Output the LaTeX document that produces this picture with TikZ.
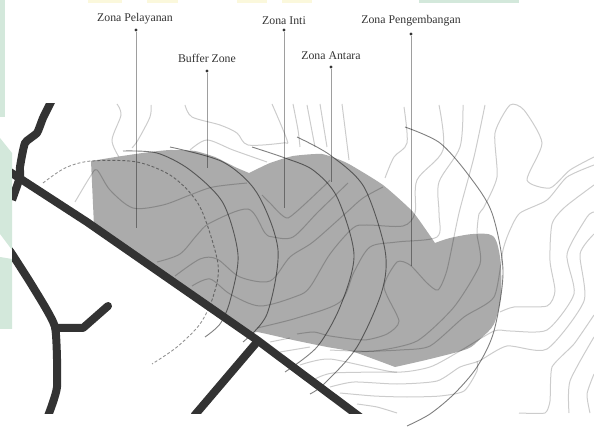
\documentclass[tikz,border=0pt]{standalone}
\usepackage{fontspec}
\setmainfont{Liberation Serif}
\definecolor{wmgreen}{HTML}{D3E8DB}
\definecolor{wmyellow}{HTML}{FBF8DC}
\definecolor{sitegray}{HTML}{ABABAB}
\definecolor{roadgray}{HTML}{333333}

\begin{document}
\begin{tikzpicture}[x=1pt,y=-1pt,
  contour/.style={black,opacity=0.2,line width=1pt},
  zonearc/.style={black,opacity=0.5,line width=0.9pt},
  road/.style={roadgray,line width=8pt,line join=round},
  pinline/.style={black,opacity=0.38,line width=0.9pt},
  zonepin/.style={circle,fill=black!80,inner sep=0pt,minimum size=3.2pt},
  zonelabel/.style={font=\fontsize{11.8}{12}\selectfont,text=black!80,inner sep=0pt}]
\useasboundingbox (0,0) rectangle (594,427);

\fill[wmgreen] (0,0) rectangle (5,117);
\fill[wmgreen] (0,138) -- (12,153) -- (12,250) -- (0,234) -- cycle;
\fill[wmgreen] (0,257) -- (12,259) -- (12,329) -- (0,329) -- cycle;
\fill[wmyellow] (88,0) rectangle (122,3);
\fill[wmyellow] (147,0) rectangle (178,3);
\fill[wmyellow] (237,0) rectangle (267,3);
\fill[wmyellow] (282,0) rectangle (312,3);
\fill[wmgreen] (419,0) rectangle (519,3);

\fill[sitegray] plot[smooth,tension=0.3] coordinates {(91,161) (122,156) (150,152) (170,150) (195,151) (215,157) (235,167) (249,173)}
  -- plot[smooth,tension=0.3] coordinates {(249,173) (270,163) (293,156) (322,154) (347,163) (383,185) (413,212) (435,243)}
  -- plot[smooth,tension=0.5] coordinates {(435,243) (450,238) (473,234) (493,236) (500,257) (501,294) (494,324) (480,339) (467,349) (430,359) (395,367)}
  -- plot[smooth,tension=0.3] coordinates {(395,367) (354,352) (327,347) (293,340) (257,332) (250,336)}
  -- (94,226) -- cycle;

\begin{scope}
\clip (12,104) rectangle (594,413);
\draw[contour] plot[smooth] coordinates {(117,104) (121,115) (112,140) (119,157)};
\draw[contour] plot[smooth] coordinates {(151,105) (150,117) (138,140) (132,148)};
\draw[contour] plot[smooth] coordinates {(185,105) (192,117) (220,125) (237,133) (248,145) (283,143) (287,140) (272,104)};
\draw[contour] plot[smooth] coordinates {(75,202) (90,177) (97,170) (110,190) (133,208) (163,205) (190,195) (213,187) (247,183)};
\draw[contour] plot[smooth] coordinates {(190,150) (207,140) (233,150) (267,162)};
\draw[contour] plot[smooth] coordinates {(157,262) (180,254) (197,235) (210,223) (248,209) (265,233) (273,237) (293,237) (318,212) (348,183)};
\draw[contour] plot[smooth,tension=0.3] coordinates {(262,195) (270,203) (288,218) (323,187) (330,180)};
\draw[contour] plot[smooth] coordinates {(175,276) (200,259) (217,259) (240,277) (270,281) (290,257) (313,242) (347,212) (363,198) (383,187)};
\draw[contour] plot[smooth] coordinates {(192,286) (210,279) (230,294) (260,306) (297,296) (310,287) (330,254) (353,228) (367,225) (403,226) (415,213) (417,180) (443,150) (439,105)};
\draw[contour] plot[smooth] coordinates {(257,328) (297,318) (340,302) (354,272) (370,247) (397,242) (437,237) (439,213) (439,182) (460,147) (463,105)};
\draw[contour] plot[smooth,tension=0.4] coordinates {(297,334) (314,332) (330,336) (364,340) (387,334) (399,321) (384,287) (397,262) (410,265) (427,283) (438,290) (447,270) (459,213) (474,157) (485,105)};
\draw[contour] plot[smooth,tension=0.4] coordinates {(330,350) (374,351) (417,341) (454,307) (480,264) (477,234) (479,214) (484,207) (497,177) (495,133) (510,105) (524,110) (542,143) (527,180) (550,188) (570,170) (594,157)};
\draw[contour] plot[smooth,tension=0.4] coordinates {(354,352) (400,350) (430,346) (464,317) (494,297) (503,250) (510,230) (520,213) (547,200) (567,177) (594,165)};
\draw[contour] plot[smooth] coordinates {(293,104) (298,130) (300,147)};
\draw[contour] plot[smooth] coordinates {(307,105) (315,147)};
\draw[contour] plot[smooth] coordinates {(320,104) (327,147)};
\draw[contour] plot[smooth] coordinates {(342,104) (349,160)};
\draw[contour] plot[smooth] coordinates {(404,107) (407,143) (394,157) (385,178)};
\draw[contour] plot[smooth,tension=0.4] coordinates {(500,312) (514,307) (547,306) (555,291) (550,261) (552,224) (565,207) (594,185)};
\draw[contour] plot[smooth,tension=0.4] coordinates {(300,365) (330,359) (394,372) (430,367) (460,351) (494,331) (510,331) (547,330) (574,294) (567,254) (587,217) (594,212)};
\draw[contour] plot[smooth,tension=0.4] coordinates {(313,380) (333,373) (397,372)};
\draw[contour] plot[smooth,tension=0.4] coordinates {(330,387) (354,382) (397,384) (437,381) (460,367) (479,361) (507,346) (547,349) (584,301) (580,254) (594,234)};
\draw[contour] plot[smooth,tension=0.4] coordinates {(340,393) (374,396) (407,397) (440,396) (464,391) (477,371) (477,361)};
\draw[contour] plot[smooth,tension=0.4] coordinates {(357,404) (377,407) (397,413)};
\draw[contour] plot[smooth,tension=0.3] coordinates {(519,413) (545,413) (550,401) (552,367) (574,344) (594,315)};
\draw[contour] plot[smooth,tension=0.4] coordinates {(569,413) (570,381) (594,337)};
\draw[contour] plot[smooth,tension=0.4] coordinates {(590,413) (587,394) (594,374)};
\draw[contour] plot[smooth] coordinates {(270,342) (290,338)};
\draw[contour] plot[smooth] coordinates {(280,352) (310,347)};
\end{scope}

\draw[zonearc,opacity=0.42,densely dashed] plot[smooth] coordinates {(43,183) (65,168) (91,161) (137,162) (173,177) (200,207) (218,264) (213,297) (200,324) (177,347) (152,364)};
\draw[zonearc] plot[smooth] coordinates {(123,151) (157,153) (190,170) (223,203) (238,255) (230,301) (220,324) (205,337)};
\draw[zonearc] plot[smooth] coordinates {(170,147) (223,162) (257,193) (278,250) (267,314) (243,342)};
\draw[zonearc] plot[smooth] coordinates {(252,147) (285,158) (313,170) (337,197) (354,255) (340,307) (317,347) (285,372)};
\draw[zonearc] plot[smooth] coordinates {(297,137) (330,155) (364,187) (385,250) (382,291) (357,347) (324,384) (310,394)};
\draw[zonearc] plot[smooth] coordinates {(405,127) (440,143) (470,177) (492,213) (503,271) (494,331) (477,367) (454,394) (430,414) (407,426)};

\begin{scope}
\clip (12,104) rectangle (594,413);
\draw[road] plot[smooth,tension=0.3] coordinates {(52,100) (43,118) (37,133) (25,143) (20,167) (20,177) (12,200)};
\draw[road] (10,172) -- (87,222) -- (257,340) -- (360,417);
\draw[road] plot[smooth,tension=0.3] coordinates {(9,250) (12,254) (33,287) (55,327) (57,387) (48,416)};
\draw[road,line cap=round] (55,328) -- (83,328) -- (108,306);
\draw[road] (257,342) -- (194,416);
\end{scope}

\node[zonelabel] (pelayanan) at (135,19) {Zona Pelayanan};
\node[zonelabel] (buffer) at (207,58) {Buffer Zone};
\node[zonelabel] (inti) at (284,21) {Zona Inti};
\node[zonelabel] (antara) at (331,56) {Zona Antara};
\node[zonelabel] (pengembangan) at (411,21) {Zona Pengembangan};

\node[zonepin] (pelayananpin) at (136,30) {};
\node[zonepin] (bufferpin) at (207,71) {};
\node[zonepin] (intipin) at (284,30) {};
\node[zonepin] (antarapin) at (331,67) {};
\node[zonepin] (pengembanganpin) at (411,34) {};
\coordinate (pelayananend) at (136,228);
\coordinate (bufferend) at (207,168);
\coordinate (intiend) at (284,208);
\coordinate (antaraend) at (331,182);
\coordinate (pengembanganend) at (411,266);
\draw[pinline] (pelayananpin) -- (pelayananend);
\draw[pinline] (bufferpin) -- (bufferend);
\draw[pinline] (intipin) -- (intiend);
\draw[pinline] (antarapin) -- (antaraend);
\draw[pinline] (pengembanganpin) -- (pengembanganend);

\end{tikzpicture}
\end{document}
